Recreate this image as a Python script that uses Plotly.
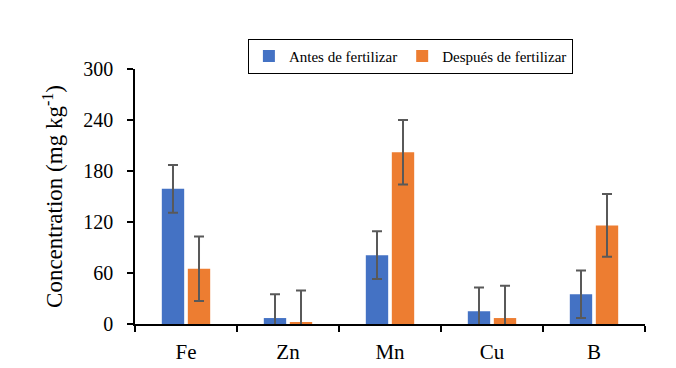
import plotly.graph_objects as go

categories = ["Fe", "Zn", "Mn", "Cu", "B"]
antes = [159, 7, 81, 15, 35]
antes_err = [28, 28, 28, 28, 28]
despues = [65, 1.5, 202, 7, 116]
despues_err = [38, 38, 38, 38, 37]
y_ticks = [0, 60, 120, 180, 240, 300]

FONT = "'Times New Roman', 'Liberation Serif', serif"

fig = go.Figure()
fig.add_trace(go.Bar(
    x=categories, y=antes, name="Antes de fertilizar",
    marker=dict(color="#4472C4", line=dict(width=0)),
    error_y=dict(type="data", array=antes_err, color="#595959", thickness=2, width=5),
))
fig.add_trace(go.Bar(
    x=categories, y=despues, name="Después de fertilizar",
    marker=dict(color="#ED7D31", line=dict(width=0)),
    error_y=dict(type="data", array=despues_err, color="#595959", thickness=2, width=5),
))

fig.update_layout(
    width=676, height=368,
    margin=dict(l=127, r=39, t=61, b=52, autoexpand=False),
    paper_bgcolor="white", plot_bgcolor="white",
    barmode="group", bargap=0.49, bargroupgap=0.14,
    font=dict(family=FONT, size=16, color="black"),
    showlegend=True,
    legend=dict(
        orientation="h", x=0.54, y=1.05, xanchor="center", yanchor="middle",
        bordercolor="black", borderwidth=1, bgcolor="white",
        font=dict(family=FONT, size=15, color="black"),
        itemwidth=30, tracegroupgap=0,
    ),
    xaxis=dict(
        type="category", range=[-0.5, 4.5],
        showline=True, linecolor="black", linewidth=1.5,
        ticks="outside", tickson="boundaries", ticklen=6, tickwidth=1.5, tickcolor="black",
        showgrid=False, zeroline=False,
        tickfont=dict(family=FONT, size=21, color="black"),
        ticklabelstandoff=8,
    ),
    yaxis=dict(
        range=[0, 300], tickvals=y_ticks,
        showline=True, linecolor="black", linewidth=1.5,
        ticks="outside", ticklen=6, tickwidth=1.5, tickcolor="black",
        showgrid=False, zeroline=False,
        tickfont=dict(family=FONT, size=20, color="black"),
        ticklabelstandoff=10,
        title=dict(text="Concentration (mg kg<sup>-1</sup>)", font=dict(family=FONT, size=23, color="black"), standoff=14),
    ),
)

fig.write_html("out.html")
